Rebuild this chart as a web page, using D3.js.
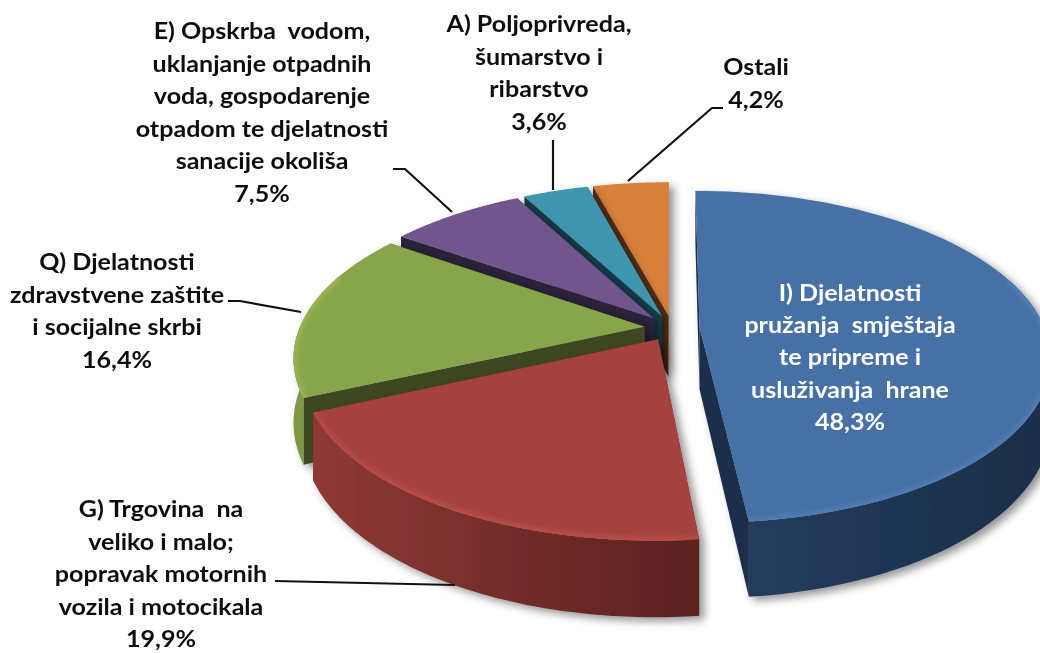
<!DOCTYPE html>
<html><head><meta charset="utf-8">
<script src="https://cdn.jsdelivr.net/npm/d3@7/dist/d3.min.js"></script>
<style>html,body{margin:0;padding:0;background:#fff;overflow:hidden}svg{display:block}text{font-family:Lato,"Open Sans",sans-serif;font-weight:700}</style>
</head><body><svg id="c" width="1040" height="653"></svg>
<script>
// DATA
const categories = ["I) Djelatnosti pružanja smještaja te pripreme i usluživanja hrane","G) Trgovina na veliko i malo; popravak motornih vozila i motocikala","Q) Djelatnosti zdravstvene zaštite i socijalne skrbi","E) Opskrba vodom, uklanjanje otpadnih voda, gospodarenje otpadom te djelatnosti sanacije okoliša","A) Poljoprivreda, šumarstvo i ribarstvo","Ostali"];
const shares = [48.3,19.9,16.4,7.5,3.6,4.2];
const shareText = ["48,3%","19,9%","16,4%","7,5%","3,6%","4,2%"];
const labelLines = [
 ["I) Djelatnosti","pružanja  smještaja","te pripreme i","usluživanja  hrane"],
 ["G) Trgovina  na","veliko i malo;","popravak motornih","vozila i motocikala"],
 ["Q) Djelatnosti","zdravstvene zaštite","i socijalne skrbi"],
 ["E) Opskrba  vodom,","uklanjanje otpadnih","voda, gospodarenje","otpadom te djelatnosti","sanacije okoliša"],
 ["A) Poljoprivreda,","šumarstvo i","ribarstvo"],
 ["Ostali"]];
const topColors  = ["#4670a5","#a54240","#89a54b","#71568e","#4096ae","#d8803b"];
const rimColors  = ["#5583bd","#c4524f","#9dbd56","#8466a6","#4bacc6","#f0903f"];
const wallColors = ["#1b2f49","#5f2422","#3d4720","#2c2139","#173e4b","#5a3314"];
const sideFrom   = ["#243f60","#8e3936","#7f9a45","#5f4878","#357e93","#b46a30"];
const sideTo     = ["#1b2e48","#5a211f","#6a823a","#4b3960","#2a6678","#8f5426"];
// layout of labels: centre x, first line y, step, text colour
const labelX=[850,161,117,262,539,756], labelY=[301,517,270,39,32,75], labelStep=[32.2,32.5,32.5,32.5,32.7,33];
const labelFill=["#fff","#111","#111","#111","#111","#111"];
const leaders=[null,[[275,581],[455,585]],[[228,301],[240,301],[301,312]],[[393,169],[405,169],[452,212]],[[553,140],[553,190]],[[723,108],[712,108],[628,181]]];

const W=1040,H=653;
const svg=d3.select("#c");
const defs=svg.append("defs");
const shadow=defs.append("filter").attr("id","sh").attr("x","-10%").attr("y","-10%").attr("width","125%").attr("height","125%");
shadow.append("feDropShadow").attr("dx",5).attr("dy",4).attr("stdDeviation",4).attr("flood-color","#000").attr("flood-opacity",.42);
defs.append("filter").attr("id","bl").attr("x","-5%").attr("y","-5%").attr("width","110%").attr("height","110%").append("feGaussianBlur").attr("stdDeviation",2.4);
defs.append("filter").attr("id","soft").append("feGaussianBlur").attr("stdDeviation",0.4);

// projection: unit disc in its own plane -> screen with perspective
const CX=672,CY=328,R=345,Q=161,P=0.178,DEPTH=62,EXPL=0.08;
const sc=v=>1/(1-P*v);
const proj=(u,v,z)=>{const s=sc(v);return [CX+R*u*s,CY+Q*v*s+z*DEPTH*s];};
const pie=d3.pie().sort(null).value(d=>d).startAngle(0).endAngle(2*Math.PI);
const arcs=pie(shares).map((a,i)=>({...a,i}));
const line=d3.line();
const visFrom=70*Math.PI/180, visTo=290*Math.PI/180; // outer wall faces the viewer only here

function build(a){
 const mid=(a.startAngle+a.endAngle)/2, ox=EXPL*Math.sin(mid), oy=-EXPL*Math.cos(mid);
 const rim=(t,z)=>proj(ox+Math.sin(t),oy-Math.cos(t),z);
 const apex=z=>proj(ox,oy,z);
 const ts=d3.range(0,81).map(k=>a.startAngle+(a.endAngle-a.startAngle)*k/80);
 return {rim,apex,ts};
}
const clip=defs.selectAll("clipPath").data(arcs).join("clipPath").attr("id",d=>"cl"+d.i);
// painter order: back to front
const order=[5,4,3,2,1,0];
order.forEach(i=>{
 const a=arcs[i],{rim,apex,ts}=build(a);
 const g=svg.append("g");
 const topPts=[apex(0),...ts.map(t=>rim(t,0))];
 const visible=ts.filter(t=>t>=visFrom&&t<=visTo);
 const sidePts=[...visible.map(t=>rim(t,0)),...visible.slice().reverse().map(t=>rim(t,1))];
 const xs=ts.map(t=>rim(t,0)[0]);
 const gr=defs.append("linearGradient").attr("id","sg"+i).attr("gradientUnits","userSpaceOnUse")
   .attr("x1",d3.min(xs)).attr("x2",d3.max(xs)).attr("y1",0).attr("y2",0);
 gr.append("stop").attr("offset",0).attr("stop-color",sideFrom[i]);
 gr.append("stop").attr("offset",1).attr("stop-color",sideTo[i]);
 const solid=g.append("g").attr("filter","url(#sh)");
 const wall=(t)=>[apex(0),rim(t,0),rim(t,1),apex(1)];
 solid.append("path").attr("d",line(wall(a.startAngle))+"Z").attr("fill",wallColors[i]);
 solid.append("path").attr("d",line(wall(a.endAngle))+"Z").attr("fill",wallColors[i]);
 if(sidePts.length) solid.append("path").attr("d",line(sidePts)+"Z").attr("fill",`url(#sg${i})`);
 solid.append("path").attr("d",line(topPts)+"Z").attr("fill",topColors[i]);
 // bevel: lighter soft rim inside the top face, front part only
 defs.select("#cl"+i).append("path").attr("d",line(topPts)+"Z");
 if(visible.length) g.append("g").attr("clip-path",`url(#cl${i})`).append("path").attr("d",line(visible.map(t=>rim(t,0))))
   .attr("fill","none").attr("stroke",rimColors[i]).attr("stroke-width",6).attr("stroke-opacity",.75).attr("filter","url(#bl)");
});

// leaders
svg.append("g").selectAll("path").data(leaders.filter(Boolean)).join("path")
 .attr("d",d=>line(d)).attr("fill","none").attr("stroke","#111").attr("stroke-width",2.2);

// labels
const lab=svg.append("g").attr("font-size",23).attr("text-anchor","middle").attr("filter","url(#soft)");
categories.forEach((c,i)=>{
 const lines=[...labelLines[i],shareText[i]];
 lab.append("g").attr("data-category",c).selectAll("text").data(lines).join("text")
  .attr("transform",(d,k)=>`translate(${labelX[i]},${labelY[i]+k*labelStep[i]}) scale(1.09,1)`).attr("fill",labelFill[i])
  .style("white-space","pre").text(d=>d);
});
</script></body></html>
